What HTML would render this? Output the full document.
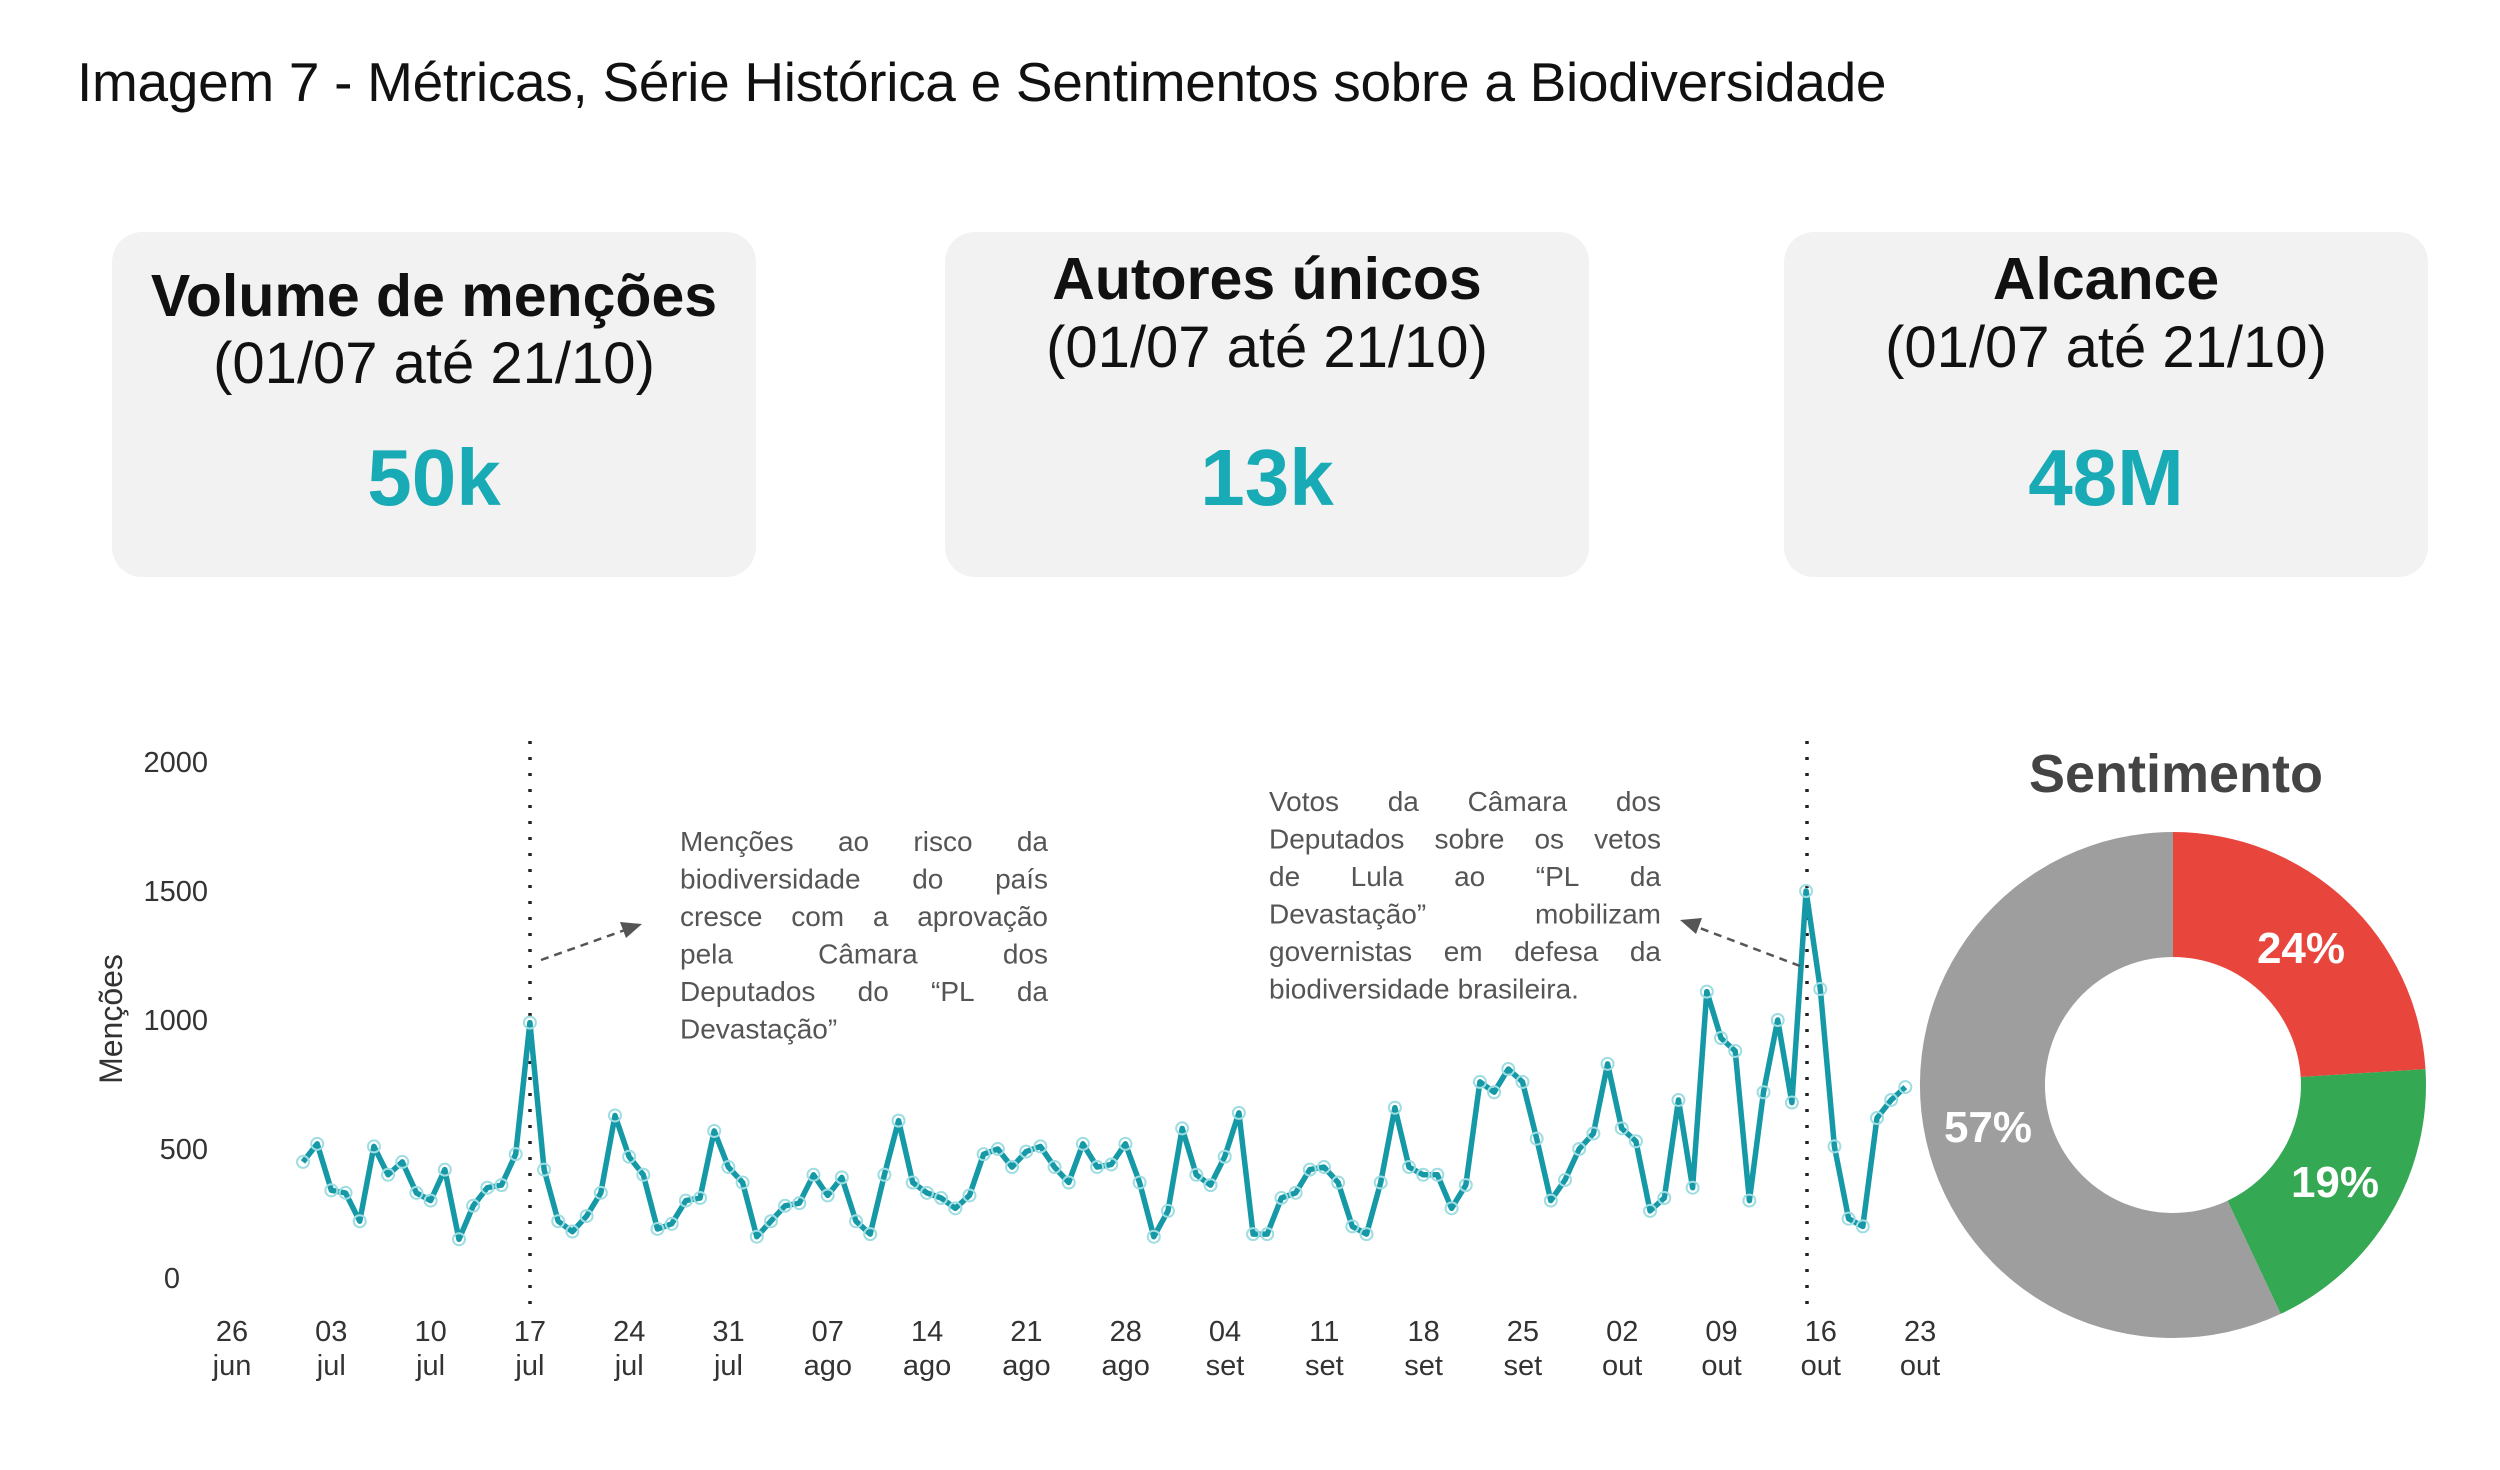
<!DOCTYPE html>
<html><head><meta charset="utf-8"><style>
html,body{margin:0;padding:0;background:#fff;width:2500px;height:1470px;overflow:hidden;font-family:"Liberation Sans",sans-serif}
.title{position:absolute;left:77px;top:50px;font-size:55px;color:#111;letter-spacing:-0.3px}
.card{position:absolute;top:232px;width:644px;height:345px;background:#f2f2f2;border-radius:30px;text-align:center}
.card .h{position:absolute;left:0;right:0;font-weight:bold;font-size:59px;color:#111}
.card .s{position:absolute;left:0;right:0;font-size:58px;color:#111}
.card .v{position:absolute;left:0;right:0;top:200px;font-weight:bold;font-size:80px;color:#18abb5}
</style></head><body>
<div class="title">Imagem 7 - Métricas, Série Histórica e Sentimentos sobre a Biodiversidade</div>
<div class="card" style="left:112px"><div class="h" style="top:30px">Volume de menções</div><div class="s" style="top:98px">(01/07 até 21/10)</div><div class="v">50k</div></div>
<div class="card" style="left:945px"><div class="h" style="top:13px">Autores únicos</div><div class="s" style="top:82px">(01/07 até 21/10)</div><div class="v">13k</div></div>
<div class="card" style="left:1784px"><div class="h" style="top:13px">Alcance</div><div class="s" style="top:82px">(01/07 até 21/10)</div><div class="v">48M</div></div>
<svg id="ch" width="2500" height="1470" style="position:absolute;left:0;top:0" xmlns="http://www.w3.org/2000/svg">
<g font-family="Liberation Sans, sans-serif" font-size="29" fill="#333" text-anchor="end">
<text x="208" y="772">2000</text><text x="208" y="901">1500</text><text x="208" y="1030">1000</text><text x="208" y="1159">500</text><text x="180" y="1288">0</text>
</g>
<text transform="translate(122,1019) rotate(-90)" font-family="Liberation Sans, sans-serif" font-size="32" fill="#333" text-anchor="middle">Menções</text>
<g id="xt" font-family="Liberation Sans, sans-serif" font-size="29" fill="#333" text-anchor="middle"></g>
<line x1="530" y1="741" x2="530" y2="1304" stroke="#222" stroke-width="3.5" stroke-dasharray="3,13"/>
<line x1="1807" y1="741" x2="1807" y2="1304" stroke="#222" stroke-width="3.5" stroke-dasharray="3,13"/>
<g id="series"></g>
<line x1="541" y1="960" x2="625" y2="930" stroke="#555" stroke-width="2.5" stroke-dasharray="8,6"/>
<polygon points="642,924 620,922 626,938" fill="#555"/>
<line x1="1800" y1="966" x2="1697" y2="927" stroke="#555" stroke-width="2.5" stroke-dasharray="8,6"/>
<polygon points="1680,920 1702,918 1696,934" fill="#555"/>
<g id="ann" font-family="Liberation Sans, sans-serif" font-size="28" fill="#555"></g>
<text x="2176" y="792" font-family="Liberation Sans, sans-serif" font-size="54" font-weight="bold" fill="#444" text-anchor="middle">Sentimento</text>
<path d="M2173,832 A253,253 0 0 1 2425.5,1069.1 L2300.7,1077 A128,128 0 0 0 2173,957 Z" fill="#e8453c"/>
<path d="M2425.5,1069.1 A253,253 0 0 1 2280.7,1313.9 L2227.5,1200.8 A128,128 0 0 0 2300.7,1077 Z" fill="#34a853"/>
<path d="M2280.7,1313.9 A253,253 0 1 1 2173,832 L2173,957 A128,128 0 1 0 2227.5,1200.8 Z" fill="#9e9e9e"/>
<g font-family="Liberation Sans, sans-serif" font-size="44" font-weight="bold" fill="#fff" text-anchor="middle">
<text x="2301" y="963">24%</text><text x="2335" y="1197">19%</text><text x="1988" y="1142">57%</text>
</g>
</svg>
<script>
var d=[450,520,340,330,220,510,400,450,330,300,420,150,280,350,360,480,990,420,220,180,240,330,630,470,400,190,210,300,310,570,430,370,160,220,280,290,400,320,390,220,170,400,610,370,330,310,270,320,480,500,430,490,510,430,370,520,430,440,520,370,160,260,580,400,360,470,640,170,170,310,330,420,430,370,200,170,370,660,430,400,400,270,360,760,720,810,760,540,300,380,500,560,830,580,530,260,310,690,350,1110,930,880,300,720,1000,680,1500,1120,510,230,200,620,690,740];
var ns="http://www.w3.org/2000/svg",g=document.getElementById("series"),pts=[];
for(var i=0;i<d.length;i++){pts.push([303+i*14.18,1278-d[i]*0.258]);}
var pl=document.createElementNS(ns,"polyline");pl.setAttribute("points",pts.map(function(p){return p[0].toFixed(1)+","+p[1].toFixed(1)}).join(" "));
pl.setAttribute("fill","none");pl.setAttribute("stroke","#1599a6");pl.setAttribute("stroke-width","5.5");pl.setAttribute("stroke-linejoin","round");g.appendChild(pl);
pts.forEach(function(p){var c=document.createElementNS(ns,"circle");c.setAttribute("cx",p[0]);c.setAttribute("cy",p[1]);c.setAttribute("r","6");c.setAttribute("fill","none");c.setAttribute("stroke","#9fdde2");c.setAttribute("stroke-width","2");g.appendChild(c);});
var L=[["26","jun"],["03","jul"],["10","jul"],["17","jul"],["24","jul"],["31","jul"],["07","ago"],["14","ago"],["21","ago"],["28","ago"],["04","set"],["11","set"],["18","set"],["25","set"],["02","out"],["09","out"],["16","out"],["23","out"]];
var xt=document.getElementById("xt");
L.forEach(function(l,i){var x=232+i*99.3;[[l[0],1341],[l[1],1375]].forEach(function(t){var e=document.createElementNS(ns,"text");e.setAttribute("x",x);e.setAttribute("y",t[1]);e.textContent=t[0];xt.appendChild(e);});});
var ann=document.getElementById("ann");
function block(x0,w,y0,lines){lines.forEach(function(s,li){var y=y0+li*37.5;var words=s.split(" ");var last=li==lines.length-1;
 var els=words.map(function(wd){var e=document.createElementNS(ns,"text");e.setAttribute("y",y);e.textContent=wd;ann.appendChild(e);return e;});
 var ws=els.map(function(e){return e.getComputedTextLength();});var tot=ws.reduce(function(a,b){return a+b},0);
 var gap=(last||words.length<2)?8:(w-tot)/(words.length-1);var x=x0;
 els.forEach(function(e,k){e.setAttribute("x",x);x+=ws[k]+gap;});});}
block(680,368,851,["Menções ao risco da","biodiversidade do país","cresce com a aprovação","pela Câmara dos","Deputados do “PL da","Devastação”"]);
block(1269,392,811,["Votos da Câmara dos","Deputados sobre os vetos","de Lula ao “PL da","Devastação” mobilizam","governistas em defesa da","biodiversidade brasileira."]);
</script>
</body></html>
